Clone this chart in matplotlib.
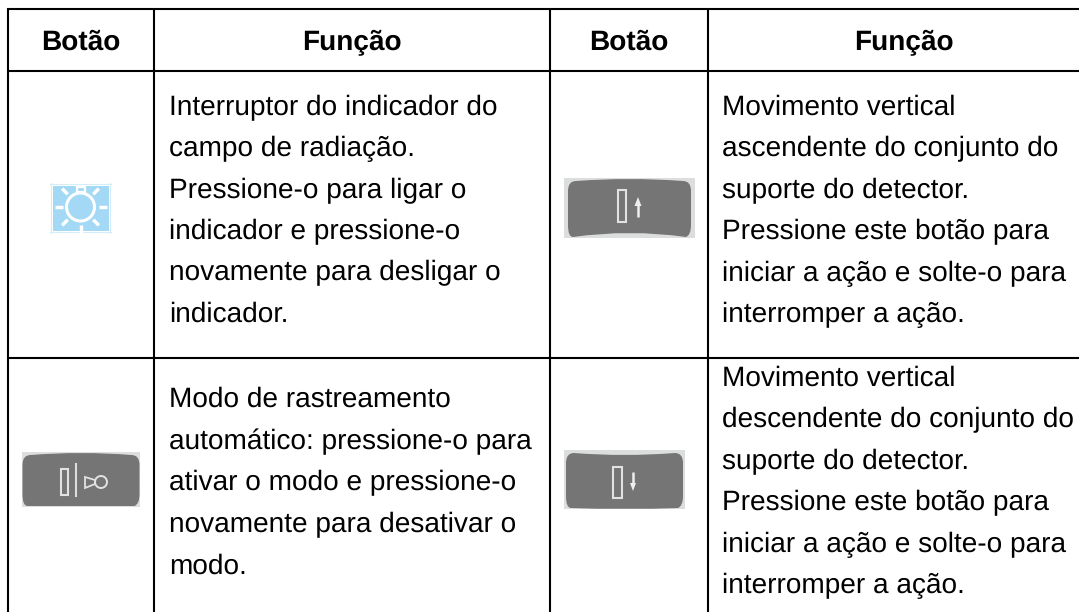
import matplotlib
matplotlib.use("Agg")
import matplotlib.pyplot as plt
from matplotlib.patches import Rectangle, Circle, Polygon, PathPatch
from matplotlib.path import Path
import numpy as np

headers = ["Botão", "Função", "Botão", "Função"]

cell_top_left = ["Interruptor do indicador do", "campo de radiação.", "Pressione-o para ligar o",
                 "indicador e pressione-o", "novamente para desligar o", "indicador."]
cell_top_right = ["Movimento vertical", "ascendente do conjunto do", "suporte do detector.",
                  "Pressione este botão para", "iniciar a ação e solte-o para", "interromper a ação."]
cell_bot_left = ["Modo de rastreamento", "automático: pressione-o para", "ativar o modo e pressione-o",
                 "novamente para desativar o", "modo."]
cell_bot_right = ["Movimento vertical", "descendente do conjunto do", "suporte do detector.",
                  "Pressione este botão para", "iniciar a ação e solte-o para", "interromper a ação."]

col_lines = [8, 154, 550, 708]
row_lines = [9, 71, 358]
header_centers = [81, 352, 629, 904]

plt.rcParams["font.family"] = ["Liberation Sans", "DejaVu Sans"]
plt.rcParams["text.hinting"] = "no_hinting"
plt.rcParams["text.hinting_factor"] = 1

fig = plt.figure(figsize=(10.79, 6.12), dpi=100)
ax = fig.add_axes([0, 0, 1, 1])
ax.set_xlim(0, 1079)
ax.set_ylim(612, 0)
ax.axis("off")

# table rules
for x in col_lines:
    ax.plot([x, x], [8, 612], color="black", lw=1.5, solid_capstyle="butt")
for y in row_lines:
    ax.plot([7, 1079], [y, y], color="black", lw=1.5, solid_capstyle="butt")

for name, x in zip(headers, header_centers):
    ax.text(x, 50, name, ha="center", va="baseline", fontsize=20, fontweight="bold")


def draw_lines(lines, x, y0, step):
    for i, line in enumerate(lines):
        ax.text(x, y0 + i * step, line, ha="left", va="baseline", fontsize=19.85, color="black")


draw_lines(cell_top_left, 169, 115, 41.4)
draw_lines(cell_top_right, 722, 115, 41.4)
draw_lines(cell_bot_left, 169, 407, 41.7)
draw_lines(cell_bot_right, 722, 386, 41.5)


def sun_icon(cx, cy):
    blue = "#a3d9f5"
    ax.add_patch(Rectangle((53, 186), 56, 45, fc=blue, ec="none"))
    ax.plot([50, 111], [184, 184], color="#d3edfb", lw=0.8)
    ax.plot([50, 111], [232, 232], color="#d3edfb", lw=0.8)
    ax.plot([51, 51], [183, 233], color="#d3edfb", lw=0.8)
    ax.plot([110, 110], [183, 233], color="#d3edfb", lw=0.8)
    ax.add_patch(Circle((cx, cy), 14, fc=blue, ec="white", lw=2.2))
    for a in np.arange(0, 360, 45):
        if a == 270:
            continue
        dx, dy = np.cos(np.radians(a)), np.sin(np.radians(a))
        ax.plot([cx + 18 * dx, cx + 26 * dx], [cy + 18 * dy, cy + 26 * dy], color="white", lw=2.5,
                solid_capstyle="butt")
    ax.add_patch(Rectangle((cx - 4, cy - 20), 8, 5, fc=blue, ec="white", lw=1.6))


def button(x0, x1, y0, y1, top_sag, bot_sag, inset=4, bg="#dcdedd", fc="#757575"):
    ax.add_patch(Rectangle((x0, y0), x1 - x0, y1 - y0, fc=bg, ec="none"))
    l, r = x0 + inset, x1 - inset
    t, b = y0 + 1, y1 - 1
    mid = (l + r) / 2
    verts = [(l + 8, t + 2), (mid, t - 2 + top_sag * 2), (r - 8, t + 2), (r, t + 2), (r, t + 12),
             (r, b - 12), (r, b - 2), (r - 5, b),
             (mid, b - bot_sag * 2), (l + 5, b),
             (l, b), (l, b - 12), (l, t + 12), (l, t + 2), (l + 8, t + 2)]
    codes = [Path.MOVETO, Path.CURVE3, Path.CURVE3, Path.CURVE3, Path.CURVE3,
             Path.LINETO, Path.CURVE3, Path.CURVE3,
             Path.CURVE3, Path.CURVE3,
             Path.CURVE3, Path.CURVE3, Path.LINETO, Path.CURVE3, Path.CURVE3]
    ax.add_patch(PathPatch(Path(verts, codes), fc=fc, ec="none"))


def slot(x, y, w, h):
    ax.add_patch(Rectangle((x, y), w, h, fc="none", ec="#e2e2e2", lw=1.5))


sun_icon(80.5, 207)

# up button
button(564, 695, 178, 238, 0, 4)
slot(617.5, 189.5, 8, 32)
ax.plot([638, 638], [203, 217], color="#eeeeee", lw=1.8, solid_capstyle="butt")
ax.add_patch(Polygon([[634.5, 206], [638, 197], [641.5, 206]], fc="#eeeeee", ec="none"))

# auto tracking button
button(22, 140, 452, 507, 0, 0, inset=0.5)
slot(60.5, 468.5, 7, 26)
ax.plot([76, 76], [463, 497], color="#dddddd", lw=1.5, solid_capstyle="butt")
ax.add_patch(Circle((101, 482), 6, fc="none", ec="#e2e2e2", lw=1.4))
ax.add_patch(Polygon([[85, 477], [95, 480], [95, 484], [85, 488]], fc="none", ec="#e2e2e2", lw=1.3))

# down button
button(564, 685, 450, 509, 4, -1, inset=2)
slot(612.5, 466.5, 9, 31)
ax.plot([633, 633], [472, 484], color="#eeeeee", lw=1.8, solid_capstyle="butt")
ax.add_patch(Polygon([[630, 483], [633, 491], [636, 483]], fc="#eeeeee", ec="none"))

fig.savefig("out.png", dpi=100)
